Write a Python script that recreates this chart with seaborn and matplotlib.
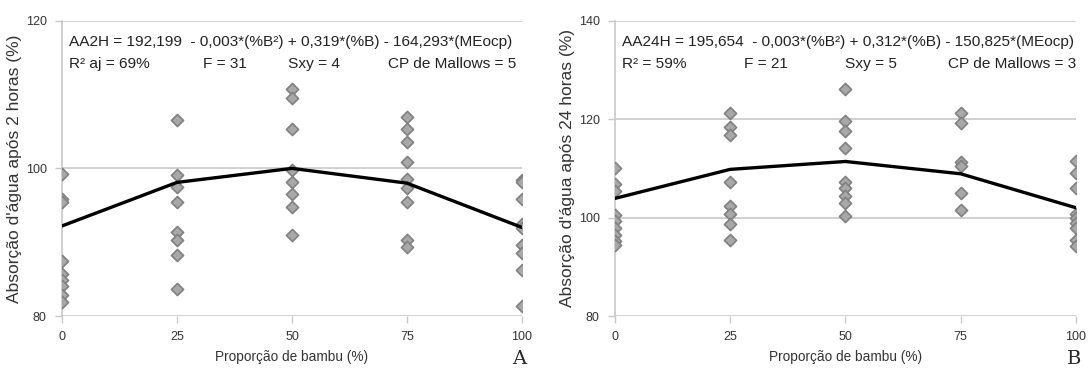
import numpy as np
import pandas as pd
import seaborn as sns
import matplotlib.pyplot as plt

# values
proportions = [0, 25, 50, 75, 100]

# panel A - absorption after 2 hours
obs_2h = {
    0: [99.2, 95.8, 95.5, 87.4, 85.7, 84.9, 84.1, 82.8, 81.9],
    25: [106.6, 99.1, 97.5, 95.4, 91.4, 90.3, 88.2, 83.7],
    50: [110.8, 109.6, 105.4, 99.8, 98.2, 96.5, 94.8, 91.0],
    75: [107.0, 105.4, 103.6, 100.9, 98.6, 97.3, 95.5, 90.3, 89.3],
    100: [98.4, 98.1, 95.9, 92.5, 91.9, 89.6, 88.5, 86.3, 81.3],
}
fit_2h = [92.2, 98.1, 100.0, 98.0, 92.0]

# panel B - absorption after 24 hours
obs_24h = {
    0: [110.0, 106.9, 105.4, 100.6, 99.3, 97.9, 96.5, 95.3, 94.4],
    25: [121.2, 118.5, 116.8, 107.2, 102.3, 100.8, 98.6, 95.5],
    50: [126.1, 119.7, 117.5, 114.1, 107.2, 106.0, 104.3, 103.0, 100.3],
    75: [121.2, 119.3, 111.2, 110.5, 105.0, 101.5],
    100: [111.4, 109.1, 106.0, 100.8, 99.9, 98.9, 97.9, 95.5, 94.2],
}
fit_24h = [103.9, 109.8, 111.4, 108.9, 102.0]

eq_2h = "AA2H = 192,199  - 0,003*(%B²) + 0,319*(%B) - 164,293*(MEocp)"
stats_2h = ["R² aj = 69%", "F = 31", "Sxy = 4", "CP de Mallows = 5"]
eq_24h = "AA24H = 195,654  - 0,003*(%B²) + 0,312*(%B) - 150,825*(MEocp)"
stats_24h = ["R² = 59%", "F = 21", "Sxy = 5", "CP de Mallows = 3"]

sns.set_style("white")
plt.rcParams['font.family'] = ['Liberation Sans', 'DejaVu Sans']

fig = plt.figure(figsize=(10.89, 3.74), dpi=100)
ax_a = fig.add_axes([0.0569, 0.155, 0.4224, 0.7896])
ax_b = fig.add_axes([0.5647, 0.155, 0.4233, 0.7896])


def to_long(obs):
    rows = [(x, v) for x, vals in obs.items() for v in vals]
    return pd.DataFrame(rows, columns=["prop", "val"])


def draw(ax, obs, fit, ylim, yticks, ylabel, eq, stats, stat_x, letter):
    df = to_long(obs)
    sns.scatterplot(data=df, x="prop", y="val", ax=ax, marker="D", s=38,
                    color="#a8a8a8", edgecolor="#808080", linewidth=1.2, zorder=3)
    sns.lineplot(x=proportions, y=fit, ax=ax, color="black", linewidth=2.4, zorder=4)
    ax.set_xlim(0, 100)
    ax.set_ylim(*ylim)
    ax.set_xticks(proportions)
    ax.set_yticks(yticks)
    ax.yaxis.grid(True, color="#c8c8c8", linewidth=1.2)
    ax.set_axisbelow(True)
    for s in ["top", "right", "bottom"]:
        ax.spines[s].set_visible(False)
    ax.spines["left"].set_color("#c8c8c8")
    ax.spines["left"].set_linewidth(1.2)
    ax.tick_params(axis="both", labelsize=9, colors="#333333", length=5,
                   width=1, color="#c8c8c8", direction="out", left=True, bottom=True, pad=6)
    ax.set_xlabel("Proporção de bambu (%)", fontsize=9.8, color="#333333", labelpad=5)
    ax.set_ylabel(ylabel, fontsize=12.5, color="#333333", labelpad=3)
    ax.text(0.016, 0.929, eq, transform=ax.transAxes, fontsize=11.1, color="#222222", va="center")
    has = ["left", "left", "left", "right"]
    for x, h, t in zip(stat_x, has, stats):
        ax.text(x, 0.855, t, transform=ax.transAxes, fontsize=11.1, color="#222222",
                va="center", ha=h)
    ax.text(0.995, -0.145, letter, transform=ax.transAxes, fontsize=14,
            family="DejaVu Serif", ha="center", va="center")


draw(ax_a, obs_2h, fit_2h, (80, 120), [80, 100, 120],
     "Absorção d'água após 2 horas (%)", eq_2h, stats_2h,
     [0.016, 0.307, 0.492, 0.987], "A")
draw(ax_b, obs_24h, fit_24h, (80, 140), [80, 100, 120, 140],
     "Absorção d'água após 24 horas (%)", eq_24h, stats_24h,
     [0.016, 0.281, 0.50, 1.0], "B")

fig.savefig("out.png", dpi=100)
